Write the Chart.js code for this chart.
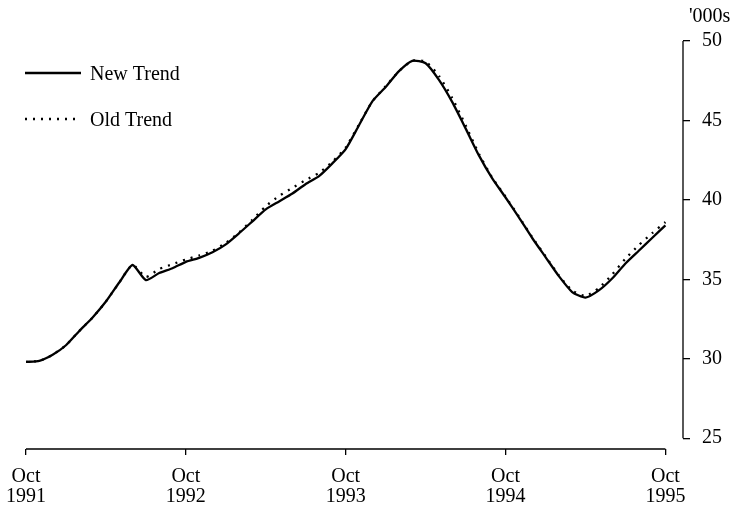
<!DOCTYPE html>
<html>
<head>
<meta charset="utf-8">
<script src="https://cdn.jsdelivr.net/npm/chart.js@4/dist/chart.umd.min.js"></script>
<style>
  html, body { margin: 0; padding: 0; background: #fff; }
  #chart { display: block; }
</style>
</head>
<body>
<canvas id="chart" width="739" height="506"></canvas>
<script>
// monthly trend, Oct 1991 .. Oct 1995 ('000s)
const newTrend = [
  29.8, 29.87, 30.25, 30.85, 31.75, 32.6, 33.6, 34.8, 35.9, 34.95,
  35.4, 35.7, 36.1, 36.35, 36.7, 37.2, 37.9, 38.65, 39.4, 39.9,
  40.4, 41.0, 41.5, 42.3, 43.2, 44.7, 46.2, 47.1, 48.1, 48.75,
  48.6, 47.55, 46.15, 44.5, 42.8, 41.35, 40.15, 38.9, 37.6, 36.4,
  35.2, 34.2, 33.85, 34.3, 35.05, 36.0, 36.8, 37.6, 38.4
];
const oldTrend = [
  29.8, 29.87, 30.25, 30.85, 31.75, 32.6, 33.6, 34.8, 35.9, 35.15,
  35.65, 35.95, 36.25, 36.5, 36.8, 37.3, 37.95, 38.75, 39.6, 40.25,
  40.75, 41.25, 41.7, 42.4, 43.3, 44.75, 46.2, 47.15, 48.1, 48.75,
  48.7, 47.8, 46.4, 44.7, 42.9, 41.4, 40.2, 38.95, 37.65, 36.45,
  35.25, 34.3, 33.95, 34.45, 35.3, 36.3, 37.15, 37.9, 38.6
];
const seriesNames = ['New Trend', 'Old Trend'];
const tickMonths = [0, 12, 24, 36, 48];
const tickLabels = [['Oct', '1991'], ['Oct', '1992'], ['Oct', '1993'], ['Oct', '1994'], ['Oct', '1995']];
const yTicks = [25, 30, 35, 40, 45, 50];
const yUnit = "'000s";

const FONT = "'Liberation Serif', 'Times New Roman', serif";

// axis lines, unit label and the in-plot legend
const decorations = {
  id: 'decorations',
  afterDraw(chart) {
    const { ctx, chartArea, scales: { x, y } } = chart;
    ctx.save();
    ctx.strokeStyle = '#000';
    ctx.lineWidth = 1.3;
    ctx.beginPath();
    ctx.moveTo(x.getPixelForValue(tickMonths[0]), chartArea.bottom);
    ctx.lineTo(x.getPixelForValue(tickMonths[tickMonths.length - 1]), chartArea.bottom);
    ctx.moveTo(chartArea.right, y.getPixelForValue(yTicks[yTicks.length - 1]));
    ctx.lineTo(chartArea.right, y.getPixelForValue(yTicks[0]));
    ctx.stroke();

    ctx.fillStyle = '#000';
    ctx.font = '20px ' + FONT;
    ctx.textBaseline = 'middle';
    ctx.textAlign = 'left';
    ctx.fillText(yUnit, 689, 17);

    chart.data.datasets.forEach((ds, i) => {
      const ly = 73 + i * 46;
      ctx.beginPath();
      ctx.lineWidth = ds.borderWidth;
      ctx.setLineDash(ds.borderDash || []);
      ctx.moveTo(25, ly);
      ctx.lineTo(81, ly);
      ctx.stroke();
      ctx.setLineDash([]);
      ctx.fillText(ds.label, 90, ly + 2);
    });
    ctx.restore();
  }
};

new Chart(document.getElementById('chart'), {
  type: 'line',
  data: {
    datasets: [
      {
        label: seriesNames[0],
        data: newTrend.map((v, i) => ({ x: i, y: v })),
        borderColor: '#000',
        borderWidth: 2.3,
        pointRadius: 0,
        tension: 0.2,
      },
      {
        label: seriesNames[1],
        data: oldTrend.map((v, i) => ({ x: i, y: v })),
        borderColor: '#000',
        borderWidth: 2.3,
        borderDash: [2, 6],
        pointRadius: 0,
        tension: 0.2,
      },
    ],
  },
  options: {
    responsive: false,
    animation: false,
    layout: { padding: { left: 26, top: 41, right: 0, bottom: 0 } },
    plugins: { legend: { display: false }, tooltip: { enabled: false } },
    scales: {
      x: {
        type: 'linear',
        min: 0,
        max: 49.32,
        afterBuildTicks: s => { s.ticks = tickMonths.map(v => ({ value: v })); },
        afterFit: s => { s.height = 57; s.paddingLeft = 0; s.paddingRight = 0; },
        border: { display: false },
        grid: { drawOnChartArea: false, drawTicks: true, tickLength: 6, color: '#000', lineWidth: 1.3 },
        ticks: {
          autoSkip: false,
          maxRotation: 0,
          padding: 12,
          color: '#000',
          font: { family: FONT, size: 20, lineHeight: 1.0 },
          callback: (v) => tickLabels[tickMonths.indexOf(v)] || '',
        },
      },
      y: {
        position: 'right',
        min: 24.32,
        max: 50,
        afterBuildTicks: s => { s.ticks = yTicks.map(v => ({ value: v })); },
        afterFit: s => { s.width = 56; },
        border: { display: false },
        grid: { drawOnChartArea: false, drawTicks: true, tickLength: 7, color: '#000', lineWidth: 1.3 },
        ticks: {
          padding: 12,
          color: '#000',
          font: { family: FONT, size: 20 },
        },
      },
    },
  },
  plugins: [decorations],
});
</script>
</body>
</html>
